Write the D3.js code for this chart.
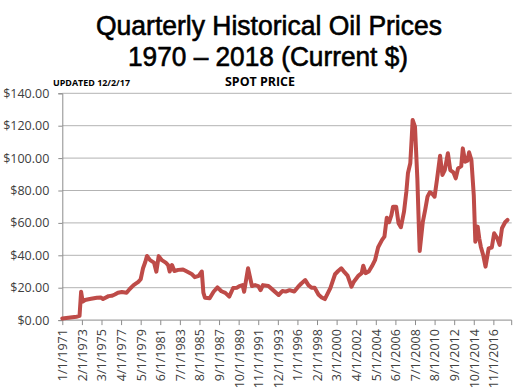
<!DOCTYPE html>
<html><head><meta charset="utf-8">
<script src="https://cdn.jsdelivr.net/npm/d3@7"></script>
<style>body{margin:0;background:#fff}svg{display:block}</style>
</head><body>
<svg id="c" width="520" height="390"></svg>
<script>
// month offsets from 1/1/1971 and spot price (current $)
const months = [0,18,22,24,26,29,35,44,49,52,59,63,67,71,76,82,86,91,97,100,103,106,108,112,117,120,123,127,132,135,137,140,143,148,154,159,165,169,174,178,180,182,188,193,198,203,208,213,218,223,226,230,232,237,242,246,250,253,256,263,269,276,281,285,290,296,301,305,310,314,318,322,327,331,335,342,348,352,356,360,364,369,372,378,382,384,387,391,395,399,403,408,411,414,417,420,422,426,429,432,436,439,441,444,446,447,450,453,455,456,460,463,466,469,472,475,478,482,485,488,492,495,499,502,505,509,511,514,517,519,522,525,527,530,532,534,537,540,544,548,551,555,558,561,565,568];
const prices = [1.0,2.1,2.6,17.5,11.4,12.4,13,13.8,14,13,14.8,15,15.8,16.9,17.3,16.9,19.2,21.6,23.6,25.2,32,36,39.6,37,35.5,29.9,39.5,37,35.5,34,30,34,30.3,31,31.3,30,28.5,26.5,27.3,30,17,13.8,13.5,17.5,20.2,17.8,16.8,14.5,19.8,20,21,21.6,17.5,32,21,21.6,21,18.5,21.6,21,18.5,15.5,18,17.6,18.5,17.6,20.6,22.6,24.7,21.6,20,20,15.7,14,13,19.8,28.3,30.3,32,29.6,27.5,20.6,23.7,27.5,29,33.6,29,30,33.2,37,45,49.5,51.5,63.2,60.4,64.9,70,70,59.8,57.3,66.9,79.3,90.6,96.8,114,123.5,119.4,87.5,56.7,42.7,60.7,68,76.2,78.9,78,76.2,86.5,101.5,89.6,92.6,103,92.6,91.2,87.5,93.7,95,106,97.8,98.4,103.6,98.8,77.2,48.4,57.7,50.5,45.3,40.2,33,44.3,44.8,53.6,50.5,46.4,56.7,60.4,61.8];
const tickMonths = [0,25,50,75,100,125,150,175,200,225,250,275,300,325,350,375,400,425,450,475,500,525,550];
const tickLabels = ["1/1/1971","2/1/1973","3/1/1975","4/1/1977","5/1/1979","6/1/1981","7/1/1983","8/1/1985","9/1/1987","10/1/1989","11/1/1991","12/1/1993","1/1/1996","2/1/1998","3/1/2000","4/1/2002","5/1/2004","6/1/2006","7/1/2008","8/1/2010","9/1/2012","10/1/2014","11/1/2016"];
const yTicks = [0,20,40,60,80,100,120,140];
const titleLines = ["Quarterly Historical Oil Prices","1970 \u2013 2018 (Current $)"];

const svg = d3.select("#c");
const pLeft = 62.3, pRight = 511.7, pTop = 93.3, pBottom = 320.1;
const x = d3.scaleLinear().domain([0,573.4]).range([pLeft,pRight]);
const y = d3.scaleLinear().domain([0,140]).range([pBottom,pTop]);
const font = "'Open Sans', 'Liberation Sans', sans-serif";
const tfont = "'Liberation Sans', Arial, sans-serif";

// title
svg.append("text").attr("x",269).attr("y",35).attr("text-anchor","middle")
  .attr("font-family",tfont).attr("font-size",27).attr("fill","#000")
  .attr("stroke","#000").attr("stroke-width",0.6)
  .attr("textLength",346).attr("lengthAdjust","spacingAndGlyphs").text(titleLines[0]);
svg.append("text").attr("x",268).attr("y",66).attr("text-anchor","middle")
  .attr("font-family",tfont).attr("font-size",27).attr("fill","#000")
  .attr("stroke","#000").attr("stroke-width",0.6)
  .attr("textLength",280).attr("lengthAdjust","spacingAndGlyphs").text(titleLines[1]);
svg.append("text").attr("x",53).attr("y",86).attr("font-family",font).attr("font-weight","bold")
  .attr("font-size",8.5).attr("textLength",77).attr("lengthAdjust","spacingAndGlyphs").text("UPDATED 12/2/17");
svg.append("text").attr("x",260).attr("y",86).attr("text-anchor","middle").attr("font-family",font).attr("font-weight","bold")
  .attr("font-size",11.5).attr("textLength",70).attr("lengthAdjust","spacingAndGlyphs").text("SPOT PRICE");

// gridlines
svg.append("g").selectAll("line").data(yTicks.filter(d=>d>0)).join("line")
  .attr("x1",pLeft).attr("x2",pRight).attr("y1",d=>y(d)).attr("y2",d=>y(d))
  .attr("stroke","#b3b3b3").attr("stroke-width",1);

// y axis
const yAxis = d3.axisLeft(y).tickValues(yTicks).tickSize(4).tickPadding(9)
  .tickFormat(d=>"$"+d3.format(".2f")(d));
const gy = svg.append("g").attr("transform",`translate(${pLeft},0)`).call(yAxis);
gy.select(".domain").attr("stroke","#8c8c8c");
gy.selectAll(".tick line").attr("stroke","#8c8c8c");
gy.selectAll("text").attr("font-family",font).attr("font-size",12.5).attr("fill","#404040");

// x axis
const xAxis = d3.axisBottom(x).tickValues(tickMonths).tickSize(5).tickPadding(4)
  .tickFormat((d,i)=>tickLabels[i]);
const gx = svg.append("g").attr("transform",`translate(0,${pBottom})`).call(xAxis);
gx.select(".domain").attr("stroke","#8c8c8c").attr("d",`M${pLeft},0H${pRight}`);
gx.selectAll(".tick line").attr("stroke","#8c8c8c");
gx.selectAll("text").attr("font-family",font).attr("font-size",12.5).attr("fill","#404040")
  .attr("transform","rotate(-90)").attr("text-anchor","end").attr("dy","0.35em")
  .attr("x",-9).attr("y",0);
gx.append("line").attr("x1",pRight).attr("x2",pRight).attr("y1",0).attr("y2",5).attr("stroke","#8c8c8c");

// line
const line = d3.line().x((d,i)=>x(months[i])).y(d=>y(d)).curve(d3.curveLinear);
svg.append("path").datum(prices).attr("d",line).attr("fill","none")
  .attr("stroke","#be4b48").attr("stroke-width",4).attr("stroke-linejoin","round").attr("stroke-linecap","round");
</script>
</body></html>
